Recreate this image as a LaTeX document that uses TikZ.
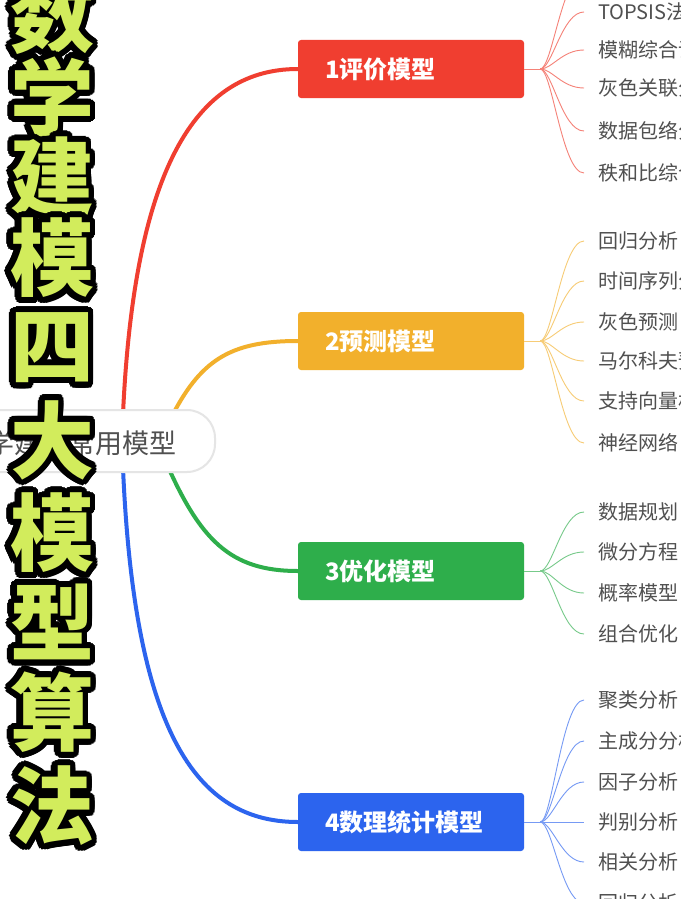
\documentclass[tikz,border=0pt]{standalone}
\usepackage{fontspec}
\newfontfamily\cjk{Noto Sans CJK SC}
\usetikzlibrary{calc}
\definecolor{cR}{HTML}{F03E30}
\definecolor{cY}{HTML}{F2B02C}
\definecolor{cG}{HTML}{2EAE4B}
\definecolor{cB}{HTML}{2C64EE}
\definecolor{ttl}{HTML}{D2EC5C}
\definecolor{leaftxt}{HTML}{505050}
\tikzset{
 box/.style={rounded corners=3pt,minimum width=226pt,minimum height=58pt,text=white,font=\cjk\bfseries\fontsize{24}{24}\selectfont,align=left,text width=172pt,inner xsep=27pt},
 leaf/.style={anchor=west,inner sep=0pt,text=leaftxt,font=\cjk\fontsize{20}{20}\selectfont},
 branch/.style={line width=4pt},
 twig/.style={line width=0.9pt},
}
\begin{document}
\begin{tikzpicture}[x=1pt,y=-1pt]
\useasboundingbox (0,0) rectangle (680,899);
\clip (0,0) rectangle (680,899);
\fill[white] (0,0) rectangle (680,899);
% boxes
\node[box,fill=cR] (b1) at (411,69) {1评价模型};
\node[box,fill=cY] (b2) at (411,341) {2预测模型};
\node[box,fill=cG] (b3) at (411,571) {3优化模型};
\node[box,fill=cB] (b4) at (411,822) {4数理统计模型};
% center anchors
\coordinate (c1) at (122,440);
\coordinate (c2) at (170,420);
\coordinate (c3) at (165,460);
\coordinate (c4) at (122,440);
\draw[branch,cR] (c1) .. controls (130,180) and (190,69) .. (b1.west);
\draw[branch,cY] (c2) .. controls (200,360) and (230,341) .. (b2.west);
\draw[branch,cG] (c3) .. controls (200,540) and (230,571) .. (b3.west);
\draw[branch,cB] (c4) .. controls (130,720) and (190,822) .. (b4.west);
% center node
\node[draw=black!10,line width=2pt,fill=white,rounded corners=28pt,minimum width=260pt,minimum height=62pt] (root) at (85,441) {};
\node[anchor=east,text=leaftxt,font=\cjk\fontsize{27}{27}\selectfont,inner sep=0pt] (rt) at (177,443) {数学建模常用模型};
% leaves
\newcommand{\leaves}[4]{% box, color, list
  \coordinate (f#1) at ($(#1.east)+(16,0)$);
  \draw[twig,#2!65] (#1.east) -- (f#1);
  \foreach \yy/\tt [count=\i] in {#4} {
    \node[leaf] (#1l\i) at (598,\yy) {\tt};
    \draw[twig,#2!65] (f#1) .. controls ($(f#1)+(12,0)$) and (562,\yy) .. ($(#1l\i.west)+(-14,0)$);
  }
}
\leaves{b1}{cR}{}{-26/层次分析法,12/TOPSIS法,50/模糊综合评价法,88/灰色关联分析,131/数据包络分析,173/秩和比综合评价法}
\leaves{b2}{cY}{}{241/回归分析,281/时间序列分析,322/灰色预测,361/马尔科夫预测,401/支持向量机,443/神经网络}
\leaves{b3}{cG}{}{512/数据规划,552/微分方程,593/概率模型,634/组合优化}
\leaves{b4}{cB}{}{700/聚类分析,741/主成分分析,782/因子分析,822/判别分析,862/相关分析,903/回归分析}
% title
\foreach \ch/\yy [count=\k] in {数/15,学/97,建/177,模/258,四/348,大/440,模/533,型/622,算/712,法/806}{
  \foreach \a in {0,15,...,345}{
    \node[font=\cjk\bfseries\fontsize{84}{84}\selectfont,text=black,inner sep=0pt] at ($(52,\yy)+(\a:6)$) {\ch};
  }
  \node[font=\cjk\bfseries\fontsize{84}{84}\selectfont,text=ttl,inner sep=0pt] (t\k) at (52,\yy) {\ch};
}
\end{tikzpicture}
\end{document}
